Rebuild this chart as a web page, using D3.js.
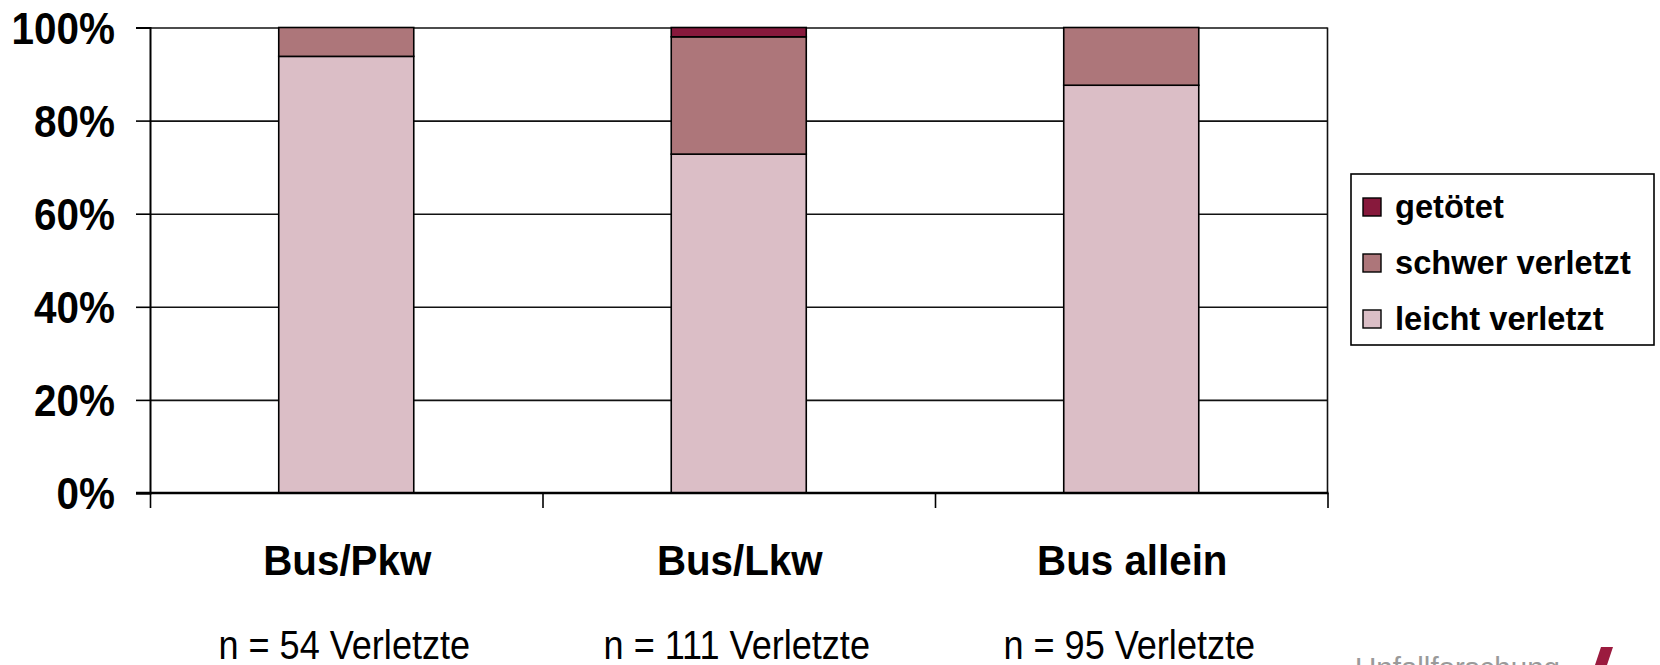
<!DOCTYPE html>
<html>
<head>
<meta charset="utf-8">
<script src="https://cdn.jsdelivr.net/npm/d3@7/dist/d3.min.js"></script>
<style>
  html, body { margin: 0; padding: 0; background: #fff; }
  svg { display: block; }
  text { font-family: "Liberation Sans", Arial, sans-serif; fill: #000; }
</style>
</head>
<body>
<svg id="chart" width="1660" height="665"></svg>
<script>
// ---- data ----
const categories = ["Bus/Pkw", "Bus/Lkw", "Bus allein"];
const nCounts = [54, 111, 95];
const leichtVerletzt = [93.8, 72.8, 87.6];
const schwerVerletzt = [6.2, 25.2, 12.4];
const getoetet = [0, 2.0, 0];
const seriesNames = ["leicht verletzt", "schwer verletzt", "getötet"];
const seriesColors = ["#dbbec6", "#ad767a", "#87193c"];
const yTicks = [0, 20, 40, 60, 80, 100];

// ---- layout ----
const svg = d3.select("#chart");
const plot = { left: 150, right: 1327.5, top: 27.5, bottom: 493 };

const x = d3.scaleBand()
  .domain(categories)
  .range([plot.left, plot.right])
  .paddingInner(0.656)
  .paddingOuter(0.328);

const xEdges = d3.scaleLinear().domain([0, categories.length]).range([plot.left, plot.right]);

const y = d3.scaleLinear().domain([0, 100]).range([plot.bottom, plot.top]);

// gridlines
const grid = svg.append("g")
  .attr("transform", `translate(${plot.left},0)`)
  .call(d3.axisLeft(y).tickValues(yTicks.filter(d => d > 0)).tickSize(-(plot.right - plot.left)).tickFormat(""));
grid.select(".domain").remove();
grid.selectAll(".tick line").attr("stroke", "#111").attr("stroke-width", 1.6);

// right border
svg.append("line")
  .attr("x1", plot.right).attr("x2", plot.right)
  .attr("y1", plot.top).attr("y2", plot.bottom)
  .attr("stroke", "#111").attr("stroke-width", 1.6);

// stacked data
const table = categories.map((c, i) => ({
  cat: c,
  "leicht verletzt": leichtVerletzt[i],
  "schwer verletzt": schwerVerletzt[i],
  "getötet": getoetet[i]
}));
const stacked = d3.stack().keys(seriesNames)(table);
const color = d3.scaleOrdinal().domain(seriesNames).range(seriesColors);

svg.append("g").selectAll("g")
  .data(stacked).join("g")
  .attr("fill", d => color(d.key))
  .selectAll("rect")
  .data(d => d.filter(p => p[1] - p[0] > 0))
  .join("rect")
  .attr("x", d => x(d.data.cat))
  .attr("width", x.bandwidth())
  .attr("y", d => y(d[1]))
  .attr("height", d => y(d[0]) - y(d[1]))
  .attr("stroke", "#000")
  .attr("stroke-width", 1.6);

// y axis
const yAxis = svg.append("g")
  .attr("transform", `translate(${plot.left},0)`)
  .call(d3.axisLeft(y).tickValues(yTicks).tickSize(14).tickFormat(""));
yAxis.select(".domain").attr("stroke", "#000").attr("stroke-width", 2);
yAxis.selectAll(".tick line").attr("stroke", "#000").attr("stroke-width", 1.6);
yAxis.selectAll(".tick").append("text")
  .attr("transform", "translate(-35,0) scale(0.93,1)")
  .attr("text-anchor", "end")
  .attr("dy", "0.36em")
  .style("font-weight", "bold")
  .style("font-size", "43.5px")
  .text(d => d + "%");

// x axis (ticks at category boundaries)
const xAxis = svg.append("g")
  .attr("transform", `translate(0,${plot.bottom})`)
  .call(d3.axisBottom(xEdges).tickValues(d3.range(categories.length + 1)).tickSize(15).tickFormat(""));
xAxis.select(".domain").remove();
xAxis.selectAll(".tick line").attr("stroke", "#000").attr("stroke-width", 1.6);
svg.append("line")
  .attr("x1", plot.left - 14).attr("x2", plot.right + 1)
  .attr("y1", plot.bottom).attr("y2", plot.bottom)
  .attr("stroke", "#000").attr("stroke-width", 2.6);

// category labels
svg.append("g").selectAll("text")
  .data(categories).join("text")
  .attr("transform", d => `translate(${x(d) + x.bandwidth() / 2 + 1},575) scale(0.96,1)`)
  .attr("text-anchor", "middle")
  .style("font-weight", "bold")
  .style("font-size", "42px")
  .text(d => d);

// n labels
svg.append("g").selectAll("text")
  .data(nCounts).join("text")
  .attr("transform", (d, i) => `translate(${x(categories[i]) + x.bandwidth() / 2 - 2},659) scale(0.88,1)`)
  .attr("text-anchor", "middle")
  .style("font-size", "41px")
  .text(d => `n = ${d} Verletzte`);

// legend
const lg = svg.append("g");
lg.append("rect")
  .attr("x", 1351).attr("y", 174).attr("width", 303).attr("height", 171)
  .attr("fill", "#fff").attr("stroke", "#000").attr("stroke-width", 1.6);
const legendOrder = ["getötet", "schwer verletzt", "leicht verletzt"];
const row = lg.selectAll("g.item").data(legendOrder).join("g")
  .attr("class", "item")
  .attr("transform", (d, i) => `translate(0,${218 + i * 56})`);
row.append("rect")
  .attr("x", 1363).attr("y", -20).attr("width", 18).attr("height", 18)
  .attr("fill", d => color(d)).attr("stroke", "#000").attr("stroke-width", 1.4);
row.append("text")
  .attr("transform", "translate(1395,0) scale(0.96,1)")
  .style("font-weight", "bold")
  .style("font-size", "34px")
  .text(d => d);

// footer logo (partially cut off)
svg.append("text")
  .attr("x", 1355).attr("y", 678)
  .style("font-size", "29.5px")
  .style("fill", "#9a9a9a")
  .text("Unfallforschung");
svg.append("path")
  .attr("d", "M1601,647 L1613,647 L1606,668 L1594,668 Z")
  .attr("fill", "#9b1b3f");
</script>
</body>
</html>
